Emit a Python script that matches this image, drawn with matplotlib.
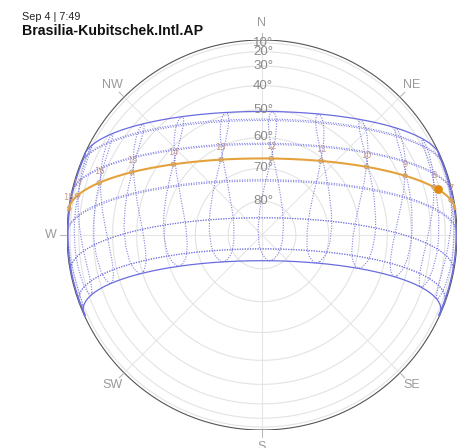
# Sun path diagram for Brasilia (orthographic projection, north up)

import numpy as np
import matplotlib.pyplot as plt

# station and time
station = "Brasilia-Kubitschek.Intl.AP"
stamp = "Sep 4 | 7:49"
latitude = -15.87
longitude = -47.92
utc_offset = -3

# Sep 4: declination (deg), equation of time (min), current clock time (h)
today_decl = 7.25
today_eot = 0.8
now_hour = 7 + 49 / 60
today_hours = [7, 8, 9, 10, 11, 12, 13, 14, 15, 16, 17, 18]

# declination (deg) and equation of time (min) on the 1st, 15th and 21st of each month
decl_1st = [-23.0, -17.2, -7.8, 4.3, 14.9, 22.0, 23.1, 18.1, 8.4, -3.0, -14.3, -21.7]
decl_15th = [-21.2, -12.9, -2.4, 9.7, 18.8, 23.3, 21.6, 14.0, 3.0, -8.3, -18.4, -23.3]
decl_21st = [-20.0, -10.8, 0.2, 11.8, 20.1, 23.44, 20.6, 12.2, 0.6, -10.8, -19.9, -23.44]
eot_1st = [-3.3, -13.6, -12.4, -4.0, 2.9, 2.2, -3.9, -6.3, -0.1, 10.2, 16.4, 11.0]
eot_15th = [-9.2, -14.2, -9.0, 0.0, 3.7, -0.2, -6.0, -4.5, 4.6, 14.2, 15.4, 4.8]
eot_21st = [-11.2, -13.7, -7.3, 1.2, 3.5, -1.6, -6.4, -3.2, 6.8, 15.3, 14.2, 2.0]

# hours that get an analemma
analemma_hours = list(range(5, 20))

# grid
alt_rings = [10, 20, 30, 40, 50, 60, 70, 80]
compass = {"N": 0, "NE": 45, "SE": 135, "S": 180, "SW": 225, "W": 270, "NW": 315}

BLUE = "#6b6be0"
ORANGE = "#e5a23c"
GRAY = "#9a9a9a"


def sky_xyz(decl, hour_angle):
    # east, north, up components of the sun vector
    p = np.radians(latitude)
    d = np.radians(decl)
    h = np.radians(hour_angle)
    east = -np.cos(d) * np.sin(h)
    north = np.sin(d) * np.cos(p) - np.cos(d) * np.cos(h) * np.sin(p)
    up = np.sin(d) * np.sin(p) + np.cos(d) * np.cos(h) * np.cos(p)
    return east, north, up


def clock_to_ha(clock, eot):
    solar = clock + (longitude - utc_offset * 15) / 15 + np.asarray(eot) / 60
    return (solar - 12) * 15


def above(x, y, z):
    x = np.where(z >= 0, x, np.nan)
    y = np.where(z >= 0, y, np.nan)
    return x, y


fig = plt.figure(figsize=(4.62, 4.48), dpi=100)
ax = fig.add_axes([67 / 462, 18 / 448, 390 / 462, 390 / 448])
ax.set_xlim(-1, 1)
ax.set_ylim(-1, 1)
ax.axis("off")

# radial grid
for a in range(0, 360, 45):
    t = np.radians(a)
    ax.plot([0, np.sin(t)], [0, np.cos(t)], color="#e6e6e6", lw=0.8, zorder=1)

# altitude rings
t = np.linspace(0, 2 * np.pi, 400)
for alt in alt_rings:
    r = np.cos(np.radians(alt))
    ax.plot(r * np.sin(t), r * np.cos(t), color="#e3e3e3", lw=0.8, zorder=1)
ax.plot(np.sin(t), np.cos(t), color="#555555", lw=0.8, zorder=2)

# compass labels and ticks
for name, deg in compass.items():
    a = np.radians(deg)
    ax.plot([np.sin(a), 1.035 * np.sin(a)], [np.cos(a), 1.035 * np.cos(a)],
            color="#bbbbbb", lw=0.8, clip_on=False)
    ax.text(1.085 * np.sin(a), 1.085 * np.cos(a), name, color=GRAY,
            fontsize=9, ha="center", va="center", family="Liberation Sans",
            clip_on=False)

# day lines on the 21st of each month
ha_line = np.linspace(-180, 180, 1441)
for m, d in enumerate(decl_21st):
    x, y, z = sky_xyz(d, ha_line)
    x, y = above(x, y, z)
    if m in (5, 11):
        ax.plot(x, y, color=BLUE, lw=0.9, zorder=3)
    else:
        ax.plot(x, y, color=BLUE, lw=0.8, ls=(0, (1, 1.3)), alpha=0.85, zorder=3)

# horizon edge of the band between the solstice sunrise / sunset points
ends = []
for d in (decl_21st[5], decl_21st[11]):
    h0 = np.degrees(np.arccos(-np.tan(np.radians(latitude)) * np.tan(np.radians(d))))
    ends.append((sky_xyz(d, -h0), sky_xyz(d, h0)))
for k in range(2):
    a0 = np.arctan2(ends[0][k][0], ends[0][k][1])
    a1 = np.arctan2(ends[1][k][0], ends[1][k][1])
    if k == 1:
        a0 = a0 % (2 * np.pi)
        a1 = a1 % (2 * np.pi)
    aa = np.linspace(a0, a1, 100)
    ax.plot(0.995 * np.sin(aa), 0.995 * np.cos(aa), color=BLUE, lw=0.9, zorder=3)

# analemmas
decl_all = np.ravel(np.column_stack([decl_1st, decl_15th, decl_21st]))
eot_all = np.ravel(np.column_stack([eot_1st, eot_15th, eot_21st]))
decl_all = np.append(decl_all, decl_all[0])
eot_all = np.append(eot_all, eot_all[0])
for hr in analemma_hours:
    x, y, z = sky_xyz(decl_all, clock_to_ha(hr, eot_all))
    x, y = above(x, y, z)
    ax.plot(x, y, color=BLUE, lw=0.8, ls=(0, (1, 1.3)), alpha=0.85, zorder=3)

# today's path
x, y, z = sky_xyz(today_decl, ha_line)
x, y = above(x, y, z)
ax.plot(x, y, color=ORANGE, lw=1.5, zorder=5)

hx, hy, hz = sky_xyz(today_decl, clock_to_ha(np.array(today_hours), today_eot))
ax.scatter(hx, hy, s=9, facecolor="none", edgecolor="#c9a070", lw=0.8, zorder=6)
for h, px, py in zip(today_hours, hx, hy):
    ax.text(px, py + 0.06, str(h), color="#c29a8a", fontsize=6,
            ha="center", va="center", zorder=6, clip_on=False)

nx, ny, nz = sky_xyz(today_decl, clock_to_ha(now_hour, today_eot))
ax.scatter([nx], [ny], s=28, color="#e08a10", zorder=7)

# altitude labels on the north axis
for alt in alt_rings:
    r = np.cos(np.radians(alt))
    ax.text(0.005, r, f"{alt}°", color="#8a8a8a", fontsize=9.5, ha="center",
            va="center", family="Liberation Sans", zorder=8)

# title
fig.text(22 / 462, 1 - 17 / 448, stamp, fontsize=7.8, color="#222222",
         family="Liberation Sans", va="center")
fig.text(22 / 462, 1 - 31 / 448, station, fontsize=10.2, weight="bold",
         color="#111111", family="Liberation Sans", va="center")

fig.savefig("out.png", dpi=100)
